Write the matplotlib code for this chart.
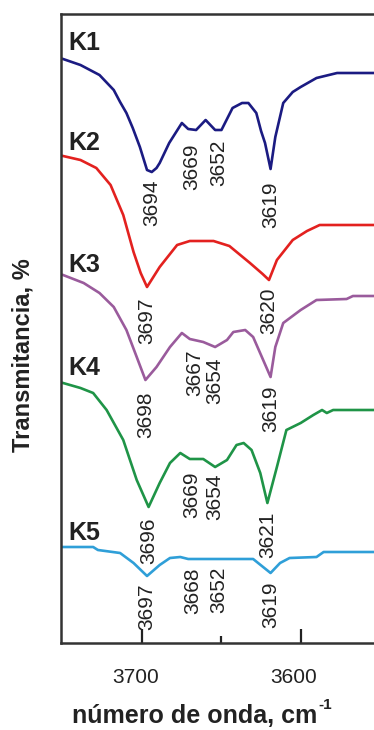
import matplotlib
matplotlib.use("Agg")
import matplotlib.pyplot as plt
import matplotlib.transforms as mtransforms
from matplotlib.ticker import FixedLocator

plt.rcParams['font.family'] = ['Liberation Sans', 'DejaVu Sans']

# FTIR spectra in the OH-stretching region (wavenumber, cm-1 / stacked transmittance, a.u.)
k1_wn = [3750, 3739, 3727, 3718, 3714, 3710, 3706, 3701.5, 3697, 3694, 3691, 3689, 3683,
         3675, 3671, 3666, 3660, 3654, 3650, 3643, 3637, 3633, 3628, 3625, 3622.5, 3619,
         3616, 3611, 3605, 3600, 3590, 3577, 3552]
k1_t = [584, 578, 568, 553, 541, 530, 515, 496, 473, 471, 475, 480, 500,
        520, 514, 513, 523, 513, 513, 535, 540, 540, 530, 512, 500, 474,
        506, 540, 551, 556, 565, 570, 570]

k2_wn = [3750, 3739, 3729, 3720, 3712, 3705.5, 3701, 3697, 3693, 3689, 3678, 3670, 3655,
         3645, 3632, 3624, 3620, 3615, 3605, 3596, 3588, 3552]
k2_t = [487, 483, 475, 458, 428, 391, 370, 356, 366, 376, 398, 402, 402,
        397, 380, 369, 363, 383, 403, 412, 418, 418]

k3_wn = [3750, 3737, 3727, 3718, 3710, 3703.5, 3698, 3691, 3682.5, 3675, 3670, 3661.5,
         3654, 3646.5, 3642.5, 3635, 3630, 3624.5, 3619, 3616, 3611, 3600, 3590, 3571,
         3567, 3552]
k3_t = [368, 360, 350, 336, 313, 286, 263, 276, 296, 310, 304, 301,
        296, 303, 311, 313, 306, 286, 266, 296, 320, 333, 343, 344,
        347, 347]

k4_wn = [3750, 3739, 3731, 3722.5, 3712, 3703.5, 3696, 3689, 3682.5, 3676, 3670, 3661.5,
         3654, 3646.5, 3640.5, 3636, 3631, 3625.5, 3621, 3615, 3609, 3600, 3592, 3586.5,
         3583.5, 3579.5, 3552]
k4_t = [260, 255, 250, 233, 203, 163, 136, 160, 180, 190, 184, 184,
        176, 183, 198, 200, 193, 170, 140, 176, 213, 220, 228, 233,
        230, 233, 233]

k5_wn = [3750, 3731, 3728, 3714, 3705.5, 3697, 3689, 3682.5, 3676, 3671, 3630, 3619,
         3613, 3607, 3590, 3585.5, 3552]
k5_t = [96, 96, 93, 90, 80, 67, 78, 85, 86, 84, 84, 70,
        80, 85, 86, 91, 91]

sample_names = ['K1', 'K2', 'K3', 'K4', 'K5']
sample_colors = ['#1b1b82', '#e3211f', '#9a5b9c', '#1f9447', '#2f9fd8']

# band assignments per sample (cm-1)
k1_bands = [3694, 3669, 3652, 3619]
k2_bands = [3697, 3620]
k3_bands = [3698, 3667, 3654, 3619]
k4_bands = [3696, 3669, 3654, 3621]
k5_bands = [3697, 3668, 3652, 3619]

# vertical placement (upper edge) of each band annotation
k1_label_top = [463, 500, 503, 461]
k2_label_top = [346, 355]
k3_label_top = [252, 293, 285, 258]
k4_label_top = [126, 171, 170, 131]
k5_label_top = [60, 76, 76, 61]
name_y = [593, 493, 371, 268, 103]

spectra = [(k1_wn, k1_t), (k2_wn, k2_t), (k3_wn, k3_t), (k4_wn, k4_t), (k5_wn, k5_t)]
bands = [k1_bands, k2_bands, k3_bands, k4_bands, k5_bands]
label_tops = [k1_label_top, k2_label_top, k3_label_top, k4_label_top, k5_label_top]

W, H = 374, 730
fig = plt.figure(figsize=(W / 100, H / 100), dpi=100)
ax = fig.add_axes([61 / W, 1 - 643 / H, 1 - 61 / W, (643 - 14) / H])

text_color = '#222222'
for (wn, t), color, name, bl, tops, ny in zip(spectra, sample_colors, sample_names,
                                            bands, label_tops, name_y):
    ax.plot(wn, t, color=color, lw=1.9, solid_joinstyle='round')
    ax.text(3746.5, ny, name, fontsize=18, fontweight='bold', color=text_color,
            ha='left', va='baseline')
    for b, top in zip(bl, tops):
        ax.text(b, top, str(b), rotation=90, fontsize=15, color=text_color,
                ha='center', va='top')

ax.set_xlim(3751.3, 3553.7)
ax.set_ylim(0, 629)

for side in ['left', 'top', 'bottom']:
    ax.spines[side].set_linewidth(1.8)
    ax.spines[side].set_color('#333333')
ax.spines['right'].set_visible(False)

ax.set_yticks([])
ax.xaxis.set_major_locator(FixedLocator([3700, 3600]))
ax.xaxis.set_minor_locator(FixedLocator([3650]))
ax.tick_params(axis='x', which='major', direction='in', length=10, width=1.6,
               color='#222222', labelsize=15, labelcolor=text_color, pad=18)
ax.tick_params(axis='x', which='minor', direction='in', length=5, width=1.6,
               color='#222222')

# tick labels sit slightly left of their ticks
shift = mtransforms.ScaledTranslation(-0.07, 0, fig.dpi_scale_trans)
for lbl in ax.get_xticklabels():
    lbl.set_transform(lbl.get_transform() + shift)

fig.text(23 / W, 1 - 355 / H, 'Transmitancia, %', rotation=90, fontsize=17,
         fontweight='bold', color=text_color, ha='center', va='center')

# x-axis title with a small raised "-1"
xl = fig.text(72 / W, 1 - 723 / H, 'número de onda, cm', fontsize=18,
              fontweight='bold', color=text_color, ha='left', va='baseline')
fig.canvas.draw()
bb = xl.get_window_extent()
fig.text((bb.x1 + 1) / W, 1 - 709 / H, '-1', fontsize=11, fontweight='bold',
         color=text_color, ha='left', va='baseline')

fig.savefig('out.png', dpi=100)
